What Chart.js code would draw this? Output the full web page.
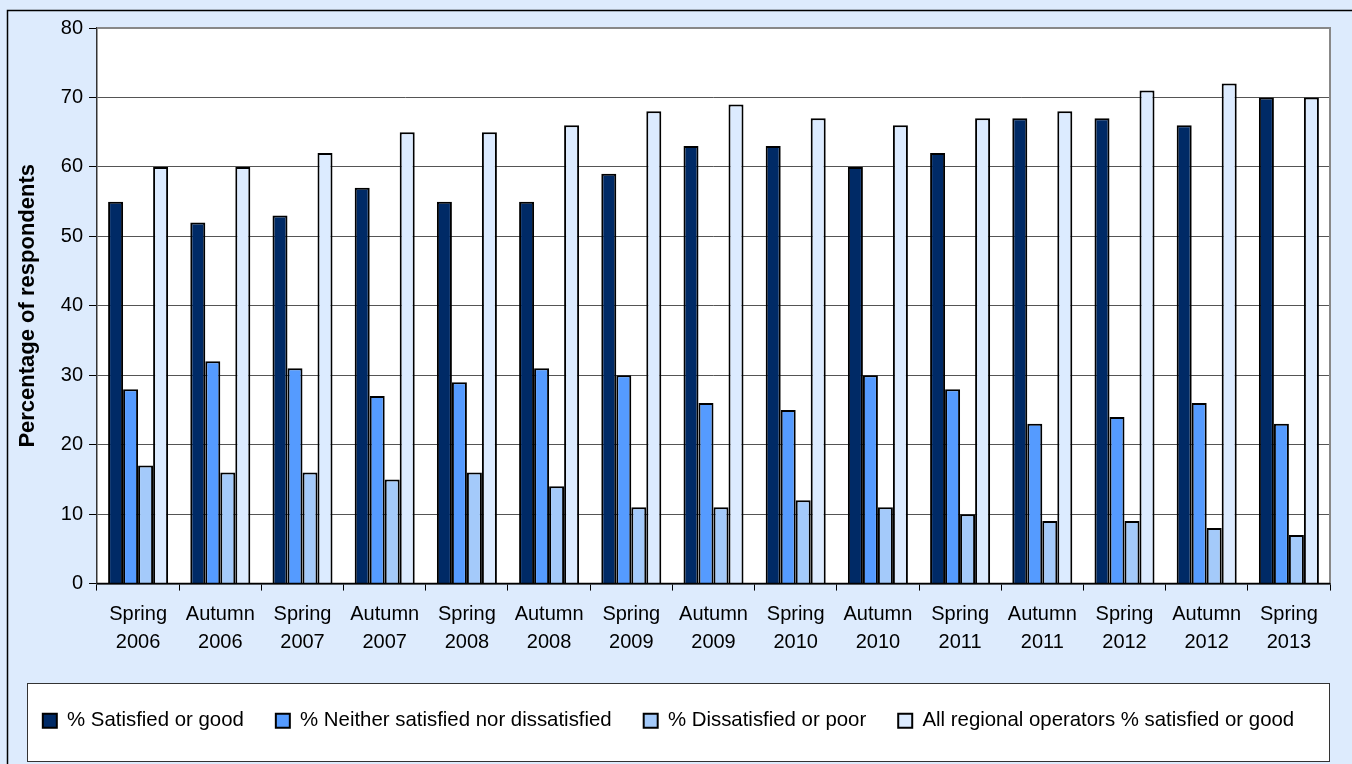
<!DOCTYPE html>
<html>
<head>
<meta charset="utf-8">
<script src="https://cdn.jsdelivr.net/npm/chart.js@4"></script>
<style>
html,body{margin:0;padding:0;background:#DDEBFD;}
#wrap{position:relative;width:1352px;height:764px;}
</style>
</head>
<body>
<div id="wrap"><canvas id="c" width="1352" height="764"></canvas></div>
<script>
const categories = [
  ['Spring','2006'],['Autumn','2006'],['Spring','2007'],['Autumn','2007'],['Spring','2008'],
  ['Autumn','2008'],['Spring','2009'],['Autumn','2009'],['Spring','2010'],['Autumn','2010'],
  ['Spring','2011'],['Autumn','2011'],['Spring','2012'],['Autumn','2012'],['Spring','2013']
];
const satisfied    = [55,52,53,57,55,55,59,63,63,60,62,67,67,66,70];
const neither      = [28,32,31,27,29,31,30,26,25,30,28,23,24,26,23];
const dissatisfied = [17,16,16,15,16,14,11,11,12,11,10,9,9,8,7];
const allRegional  = [60,60,62,65,65,66,68,69,67,66,67,68,71,72,70];
const seriesNames = ['% Satisfied or good','% Neither satisfied nor dissatisfied','% Dissatisfied or poor','All regional operators % satisfied or good'];
const yTicks = [0,10,20,30,40,50,60,70,80];

const FONT = 'Arial, "Liberation Sans", sans-serif';

const decor = {
  id: 'decor',
  beforeDraw(chart) {
    const ctx = chart.ctx, a = chart.chartArea;
    ctx.save();
    ctx.fillStyle = '#DDEBFD';
    ctx.fillRect(0, 0, chart.width, chart.height);
    ctx.strokeStyle = '#000';
    ctx.lineWidth = 1.5;
    ctx.strokeRect(7.5, 10.5, 1360, 770);
    ctx.fillStyle = '#FFFFFF';
    ctx.fillRect(a.left, a.top, a.right - a.left, a.bottom - a.top);
    // legend box
    ctx.fillStyle = '#FFFFFF';
    ctx.fillRect(27, 683, 1303, 79);
    ctx.strokeStyle = '#333';
    ctx.lineWidth = 1;
    ctx.strokeRect(27.5, 683.5, 1302, 78);
    ctx.restore();
  },
  afterDatasetsDraw(chart) {
    const ctx = chart.ctx, a = chart.chartArea;
    ctx.save();
    ctx.strokeStyle = '#888';
    ctx.lineWidth = 2;
    ctx.beginPath();
    ctx.moveTo(a.left, a.top);
    ctx.lineTo(a.right, a.top);
    ctx.lineTo(a.right, a.bottom);
    ctx.stroke();
    ctx.strokeStyle = '#000';
    ctx.lineWidth = 1.5;
    ctx.beginPath();
    ctx.moveTo(a.left, a.bottom);
    ctx.lineTo(a.right, a.bottom);
    ctx.stroke();
    ctx.restore();
  }
};

const colors = ['#002A66', '#559BFF', '#A4CAFA', '#DCEBFF'];
const values = [satisfied, neither, dissatisfied, allRegional];

new Chart(document.getElementById('c'), {
  type: 'bar',
  data: {
    labels: categories,
    datasets: values.map((v, i) => ({
      label: seriesNames[i],
      data: v,
      backgroundColor: colors[i],
      borderColor: '#000',
      borderWidth: 2,
      categoryPercentage: 0.73,
      barPercentage: 1.0
    }))
  },
  options: {
    responsive: false,
    animation: false,
    devicePixelRatio: 1,
    layout: { padding: { left: 7, right: 22, top: 28, bottom: 23 } },
    plugins: {
      tooltip: { enabled: false },
      legend: {
        position: 'bottom',
        labels: {
          color: '#000',
          font: { family: FONT, size: 20.4 },
          boxWidth: 14,
          boxHeight: 14,
          padding: 32
        }
      }
    },
    scales: {
      x: {
        grid: { offset: true, drawOnChartArea: false, drawTicks: true, tickLength: 7, color: '#000', lineWidth: 1 },
        border: { display: true, color: '#000', width: 1.5 },
        ticks: { color: '#000', font: { family: FONT, size: 20, lineHeight: 1.4 }, padding: 10, maxRotation: 0, autoSkip: false },
        afterFit(scale) { scale.height = 95; }
      },
      y: {
        min: 0, max: 80,
        afterBuildTicks(scale) { scale.ticks = yTicks.map(v => ({ value: v })); },
        grid: { color: '#555', lineWidth: 1, tickLength: 8, tickColor: '#000' },
        border: { display: true, color: '#333', width: 1.5 },
        ticks: { color: '#000', font: { family: FONT, size: 20 }, padding: 6 },
        title: { display: true, text: 'Percentage of respondents', color: '#000', font: { family: FONT, size: 22, weight: 'bold' }, padding: { top: 8, bottom: 0 } },
        afterFit(scale) { scale.width = 90; }
      }
    }
  },
  plugins: [decor]
});
</script>
</body>
</html>
